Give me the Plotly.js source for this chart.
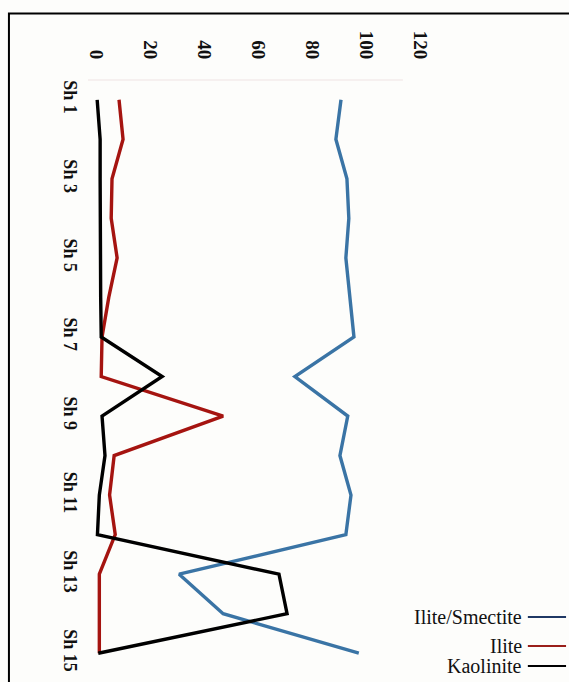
<!DOCTYPE html>
<html>
<head>
<meta charset="utf-8">
<script src="https://cdn.plot.ly/plotly-3.0.1.min.js"></script>
<style>
  html, body { margin: 0; padding: 0; background: #ffffff; }
  #chart { width: 569px; height: 682px; }
</style>
</head>
<body>
<div id="chart"></div>
<script>
// ---- data ----
const categories = ['Sh 1','Sh 2','Sh 3','Sh 4','Sh 5','Sh 6','Sh 7','Sh 8','Sh 9','Sh 10','Sh 11','Sh 12','Sh 13','Sh 14','Sh 15'];
const illiteSmectite = [90.6, 88.7, 92.8, 93.5, 92.4, 93.9, 95.4, 73.5, 93.1, 90.2, 94.3, 92.4, 30.6, 46.9, 97.2];
const illite         = [8.3, 9.8, 5.7, 5.4, 7.6, 4.5, 2.0, 1.7, 46.9, 6.5, 4.8, 6.9, 1.0, 1.0, 1.0];
const kaolinite      = [0.2, 1.3, 1.3, 1.3, 1.3, 1.5, 1.7, 24.3, 2.0, 3.1, 1.0, 0.3, 67.6, 70.6, 0.6];
const seriesNames = ['Ilite/Smectite', 'Ilite', 'Kaolinite'];
const valueTicks = [0, 20, 40, 60, 80, 100, 120];
const labeledCategories = ['Sh 1','Sh 3','Sh 5','Sh 7','Sh 9','Sh 11','Sh 13','Sh 15'];

const lineColors = ['#3a74a5', '#a51410', '#000000'];
const legendColors = ['#1f3864', '#9a1f1a', '#000000'];
const seriesValues = [illiteSmectite, illite, kaolinite];

const traces = seriesValues.map((vals, i) => ({
  type: 'scatter',
  mode: 'lines',
  name: seriesNames[i],
  x: vals,
  y: categories,
  line: { color: lineColors[i], width: 3.4 },
  showlegend: false,
  hoverinfo: 'skip'
}));

// custom legend (text left of line, as in the reference)
const legendY = [0.0944, 0.0455, 0.0118];
const annotations = seriesNames.map((n, i) => ({
  xref: 'paper', yref: 'paper',
  x: 1.301, y: legendY[i],
  xanchor: 'right', yanchor: 'middle',
  text: n, showarrow: false,
  font: { family: 'Liberation Serif, Times New Roman, serif', size: 20, color: '#111' }
}));
const shapes = seriesNames.map((n, i) => ({
  type: 'line', xref: 'paper', yref: 'paper',
  x0: 1.313, x1: 1.427, y0: legendY[i], y1: legendY[i],
  line: { color: legendColors[i], width: 1.8 }
}));
// faint plot-area top line
shapes.push({
  type: 'line', xref: 'paper', yref: 'paper',
  x0: 0, x1: 0.94, y0: 1, y1: 1,
  line: { color: '#efe3e3', width: 1.2 }
});
// outer chart frame
shapes.push({
  type: 'rect', xref: 'paper', yref: 'paper',
  x0: -0.236, x1: 1.6, y0: -0.2, y1: 1.112,
  line: { color: '#000', width: 2 },
  fillcolor: 'rgba(0,0,0,0)'
});

const layout = {
  width: 569, height: 682,
  margin: { l: 88, r: 146, t: 80, b: 9, pad: 0 },
  paper_bgcolor: '#fdfdfb',
  plot_bgcolor: '#fdfdfb',
  font: { family: 'Liberation Serif, Times New Roman, serif', color: '#111' },
  xaxis: {
    side: 'top',
    range: [-3.2, 121],
    tickmode: 'array',
    tickvals: valueTicks,
    ticktext: valueTicks.map(String),
    tickangle: 90,
    ticks: '',
    ticklabelstandoff: 17,
    showgrid: false,
    zeroline: false,
    showline: false,
    tickfont: { family: 'Liberation Serif, Times New Roman, serif', size: 19, color: '#111', weight: 'bold' }
  },
  yaxis: {
    type: 'category',
    categoryorder: 'array',
    categoryarray: categories,
    range: [14.5, -0.5],
    tickmode: 'array',
    tickvals: labeledCategories,
    ticktext: labeledCategories,
    tickangle: 90,
    ticks: '',
    ticklabelstandoff: 5,
    showgrid: false,
    zeroline: false,
    showline: false,
    tickfont: { family: 'Liberation Serif, Times New Roman, serif', size: 18, color: '#111', weight: 'bold' }
  },
  annotations: annotations,
  shapes: shapes,
  showlegend: false
};

Plotly.newPlot('chart', traces, layout, { staticPlot: true, displayModeBar: false });
</script>
</body>
</html>
